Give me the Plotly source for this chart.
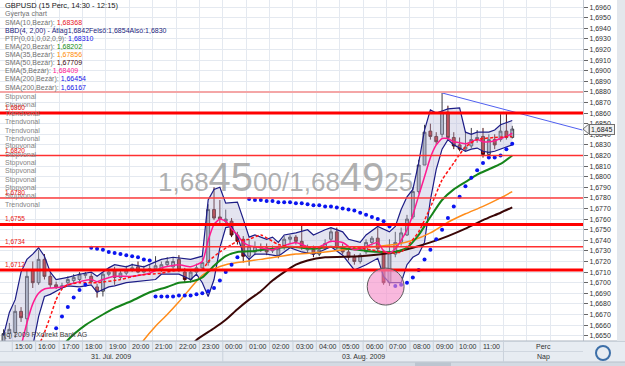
import plotly.graph_objects as go

# ---------------- data ----------------
open_ = [1.6644,1.6652,1.6653,1.6673,1.6666,1.6712,1.6700,1.6722,1.6706,1.6698,
         1.6696,1.6700,1.6702,1.6703,1.6707,1.6706,1.6696,1.6692,1.6708,1.6712,
         1.6705,1.6709,1.6712,1.6715,1.6710,1.6712,1.6713,1.6712,1.6717,1.6715,
         1.6722,1.6710,1.6703,1.6710,1.6714,1.6719,1.6769,1.6762,1.6758,1.6758,
         1.6745,1.6741,1.6725,1.6729,1.6734,1.6733,1.6730,1.6726,1.6734,1.6741,
         1.6743,1.6739,1.6731,1.6731,1.6727,1.6733,1.6741,1.6748,1.6734,1.6729,
         1.6724,1.6720,1.6729,1.6738,1.6742,1.6728,1.6700,1.6727,1.6738,1.6745,
         1.6762,1.6786,1.6811,1.6843,1.6838,1.6840,1.6861,1.6837,1.6830,1.6826,
         1.6829,1.6835,1.6838,1.6821,1.6835,1.6835,1.6843,1.6837]
high = [1.6656,1.6662,1.6679,1.6677,1.6712,1.6720,1.6731,1.6727,1.6709,1.6701,
        1.6700,1.6706,1.6708,1.6710,1.6710,1.6709,1.6699,1.6710,1.6714,1.6715,
        1.6712,1.6716,1.6718,1.6720,1.6716,1.6717,1.6725,1.6720,1.6724,1.6724,
        1.6726,1.6714,1.6712,1.6718,1.6724,1.6774,1.6790,1.6778,1.6769,1.6761,
        1.6748,1.6744,1.6741,1.6739,1.6737,1.6737,1.6735,1.6735,1.6744,1.6745,
        1.6745,1.6755,1.6736,1.6735,1.6734,1.6741,1.6752,1.6752,1.6737,1.6732,
        1.6727,1.6728,1.6741,1.6744,1.6752,1.6731,1.6741,1.6748,1.6752,1.6764,
        1.6790,1.6816,1.6849,1.6850,1.6842,1.6879,1.6867,1.6842,1.6837,1.6843,
        1.6846,1.6844,1.6846,1.6840,1.6840,1.6859,1.6860,1.6848]
low = [1.6640,1.6647,1.6648,1.6663,1.6653,1.6695,1.6698,1.6703,1.6695,1.6694,
       1.6694,1.6698,1.6699,1.6701,1.6704,1.6699,1.6686,1.6687,1.6706,1.6698,
       1.6703,1.6707,1.6710,1.6709,1.6709,1.6710,1.6711,1.6710,1.6715,1.6713,
       1.6710,1.6700,1.6700,1.6707,1.6712,1.6716,1.6759,1.6756,1.6754,1.6743,
       1.6736,1.6719,1.6716,1.6726,1.6729,1.6726,1.6728,1.6723,1.6731,1.6737,
       1.6736,1.6731,1.6728,1.6724,1.6725,1.6731,1.6738,1.6731,1.6727,1.6721,
       1.6717,1.6718,1.6727,1.6735,1.6729,1.6698,1.6697,1.6724,1.6735,1.6744,
       1.6760,1.6784,1.6811,1.6835,1.6830,1.6837,1.6835,1.6826,1.6824,1.6824,
       1.6827,1.6832,1.6818,1.6818,1.6826,1.6833,1.6835,1.6836]
close = [1.6652,1.6656,1.6673,1.6667,1.6706,1.6700,1.6722,1.6706,1.6698,1.6696,
         1.6697,1.6703,1.6705,1.6708,1.6708,1.6701,1.6692,1.6708,1.6710,1.6705,
         1.6709,1.6712,1.6714,1.6710,1.6712,1.6713,1.6716,1.6717,1.6720,1.6720,
         1.6712,1.6703,1.6710,1.6714,1.6719,1.6769,1.6761,1.6760,1.6760,1.6745,
         1.6739,1.6725,1.6734,1.6734,1.6733,1.6729,1.6731,1.6732,1.6741,1.6743,
         1.6739,1.6734,1.6733,1.6727,1.6731,1.6737,1.6748,1.6733,1.6729,1.6724,
         1.6720,1.6726,1.6738,1.6742,1.6732,1.6700,1.6728,1.6738,1.6747,1.6760,
         1.6786,1.6811,1.6842,1.6838,1.6833,1.6861,1.6837,1.6829,1.6826,1.6828,
         1.6835,1.6837,1.6821,1.6835,1.6830,1.6843,1.6837,1.6845]
candle_idx = list(range(len(close)))

ema5_i = [3,4,5,6,7,8,10,11,13,15,16,17,19,22,25,27,30,32,34,35,36,37,38,39,40,41,42,44,46,48,50,52,54,56,58,60,62,64,
          65,66,67,68,69,70,71,72,73,74,75,76,77,78,79,80,81,82,83,84,85,86,87]
ema5 = [1.6640,1.6662,1.6680,1.6690,1.6694,1.6695,1.6696,1.6698,1.6701,1.6703,1.6701,1.6703,1.6706,1.6706,1.6709,1.6714,
        1.6717,1.6715,1.6720,1.6740,1.6755,1.6760,1.6758,1.6751,1.6745,1.6738,1.6735,1.6733,1.6731,1.6735,1.6738,1.6734,
        1.6734,1.6739,1.6738,1.6731,1.6734,1.6738,1.6730,1.6728,1.6732,1.6740,1.6750,1.6764,1.6782,1.6800,1.6818,1.6830,
        1.6836,1.6836,1.6833,1.6832,1.6831,1.6833,1.6835,1.6833,1.6833,1.6834,1.6836,1.6838,1.6841]

sma10_i = [6,7,8,9,10,11,13,16,20,23,27,30,34,35,37,39,40,42,44,47,49,54,59,63,66,68,69,71,73,75,77,78,79,81,84,87]
sma10 = [1.6640,1.6653,1.6668,1.6684,1.6694,1.6698,1.6700,1.6700,1.6703,1.6707,1.6709,1.6712,1.6712,1.6720,1.6729,
         1.6736,1.6739,1.6741,1.6745,1.6736,1.6734,1.6733,1.6734,1.6731,1.6728,1.6729,1.6734,1.6748,1.6771,1.6797,
         1.6813,1.6821,1.6828,1.6835,1.6837,1.6838]

ema20_i = [9,11,14,17,19,22,25,28,30,32,34,36,38,40,43,46,49,53,56,59,62,65,67,69,71,73,75,77,79,81,83,85,87]
ema20 = [1.6632,1.6646,1.6660,1.6670,1.6676,1.6683,1.6691,1.6696,1.6700,1.6701,1.6705,1.6716,1.6725,1.6729,1.6730,
         1.6732,1.6734,1.6732,1.6734,1.6732,1.6730,1.6729,1.6729,1.6733,1.6745,1.6762,1.6778,1.6788,1.6795,1.6802,
         1.6807,1.6812,1.6820]

sma35_i = [23,24,26,28,30,32,34,36,38,40,44,50,55,61,67,70,73,76,79,82,85,87]
sma35 = [1.6638,1.6646,1.6659,1.6670,1.6682,1.6695,1.6707,1.6713,1.6717,1.6719,1.6722,1.6727,1.6729,1.6733,1.6736,
         1.6740,1.6747,1.6757,1.6765,1.6772,1.6780,1.6786]

sma50_i = [32,33,36,38,40,42,44,46,48,50,52,55,61,66,70,73,76,79,82,85,87]
sma50 = [1.6640,1.6646,1.6657,1.6665,1.6675,1.6684,1.6692,1.6702,1.6710,1.6717,1.6721,1.6724,1.6725,1.6728,1.6733,
         1.6738,1.6744,1.6751,1.6759,1.6766,1.6771]

bbu_i = [0,1,2,3,4,5,6,7,8,9,11,13,15,16,18,19,21,22,24,26,27,29,32,34,35,36,37,38,40,41,42,43,45,46,47,48,50,
         52,53,55,56,58,59,61,62,64,66,67,68,69,70,71,72,73,74,75,76,78,79,80,81,83,84,85,86,87]
bb_upper = [1.6650,1.6672,1.6684,1.6710,1.6722,1.6727,1.6733,1.6725,1.6710,1.6703,1.6705,1.6708,1.6710,1.6706,1.6714,
            1.6717,1.6715,1.6717,1.6715,1.6720,1.6722,1.6724,1.6722,1.6725,1.6778,1.6788,1.6790,1.6775,1.6776,1.6760,
            1.6743,1.6745,1.6741,1.6743,1.6738,1.6745,1.6747,1.6750,1.6745,1.6750,1.6752,1.6748,1.6741,1.6738,1.6745,
            1.6753,1.6748,1.6753,1.6769,1.6781,1.6788,1.6813,1.6844,1.6863,1.6860,1.6862,1.6864,1.6865,1.6842,1.6840,
            1.6842,1.6842,1.6844,1.6849,1.6851,1.6853]
bbl_i = [0,1,2,3,4,5,6,7,8,10,11,13,15,16,18,19,21,23,26,27,30,32,33,34,35,36,37,38,39,40,41,42,43,45,47,48,49,51,
         53,54,56,58,60,62,64,65,66,68,69,70,71,72,73,74,75,76,77,78,79,80,81,82,83,84,85,86,87]
bb_lower = [1.6625,1.6628,1.6625,1.6620,1.6625,1.6640,1.6668,1.6687,1.6689,1.6695,1.6697,1.6696,1.6698,1.6691,1.6696,
            1.6697,1.6700,1.6701,1.6703,1.6708,1.6708,1.6703,1.6708,1.6700,1.6687,1.6703,1.6733,1.6752,1.6753,1.6743,
            1.6728,1.6722,1.6727,1.6727,1.6725,1.6729,1.6733,1.6729,1.6727,1.6729,1.6734,1.6726,1.6712,1.6717,1.6723,
            1.6706,1.6700,1.6700,1.6717,1.6724,1.6727,1.6738,1.6778,1.6807,1.6826,1.6835,1.6830,1.6827,1.6824,1.6826,
            1.6827,1.6824,1.6823,1.6824,1.6826,1.6828,1.6830]

sar_i = [9,10,11,12,13,14,15,16,17,18,19,20,21,22,23,24,25,26,27,28,29,30,31,32,33,34,35,36,37,38,39,40,
         42,43,44,45,46,47,48,49,50,51,52,53,54,55,56,57,58,59,60,61,62,63,64,65,66,
         67,68,69,70,71,72,73,74,75,76,77,78,79,80,81,82,83,84,85,86,87]
sar = [1.6657,1.6668,1.6677,1.6686,1.6693,1.6698,1.6733,1.6732,1.6731,1.6729,1.6728,1.6727,1.6726,1.6725,1.6724,
       1.6722,1.6721,1.6687,1.6687,1.6687,1.6687,1.6688,1.6688,1.6688,1.6689,1.6690,1.6692,1.6695,1.6702,1.6710,
       1.6717,1.6724,
       1.6779,1.6778,1.6778,1.6777,1.6777,1.6776,1.6776,1.6776,1.6775,1.6775,1.6774,1.6773,1.6773,1.6772,1.6772,
       1.6771,1.6770,1.6769,1.6768,1.6766,1.6764,1.6762,1.6760,1.6758,1.6753,
       1.6697,1.6698,1.6700,1.6705,1.6712,1.6722,1.6731,1.6741,1.6750,1.6761,1.6772,1.6781,1.6791,1.6799,1.6806,
       1.6813,1.6818,1.6818,1.6820,1.6826,1.6831]

trend_i = [75, 99]
trend = [1.6879, 1.6844]

levels = [1.6880, 1.6860, 1.6820, 1.6780, 1.6755, 1.6734, 1.6712]
level_show_label = [False, True, True, True, True, True, True]

hour_labels = ["15:00","16:00","17:00","18:00","19:00","20:00","21:00","22:00","23:00","00:00","01:00",
               "02:00","03:00","04:00","05:00","06:00","07:00","08:00","09:00","10:00","11:00"]
day_labels = ["31. Júl. 2009", "03. Aug. 2009"]
day_start_hour = 9          # hour label index at which the second day starts
unit_labels = ["Perc", "Nap"]

legend_rows = [
    ("SMA(10,Bezár): ", "1,68368", "#e8141c"),
    ("", "BBD(4, 2,00) - Átlag1,6842Felső:1,6854Alsó:1,6830", "#1c1c7c"),
    ("PTP(0,01,0,02,0,9): ", "1,68310", "#1414e6"),
    ("EMA(20,Bezár): ", "1,68202", "#118a11"),
    ("SMA(35,Bezár): ", "1,67856", "#ff8c00"),
    ("SMA(50,Bezár): ", "1,67709", "#3a0808"),
    ("EMA(5,Bezár): ", "1,68409", "#ff1493"),
    ("EMA(200,Bezár): ", "1,66454", "#1414e6"),
    ("SMA(200,Bezár): ", "1,66167", "#1414e6"),
]
drawing_labels = ["Stopvonal","Stopvonal","Trendvonal","Trendvonal","Trendvonal","Trendvonal","Stopvonal",
                  "Stopvonal","Stopvonal","Stopvonal","Stopvonal","Stopvonal","Stopvonal","Trendvonal"]
bid_parts = ("1,68", "45", "00")
ask_parts = ("1,68", "49", "25")
last_price = 1.6845

# ---------------- layout helpers ----------------
W, H = 625, 366
PW, PH = 583, 341
X_LO, X_HI = -0.6, 99.1
Y_LO, Y_HI = 1.66450, 1.69667
FONT = "Liberation Sans, Arial, sans-serif"


def px_x(px):
    return px / PW


def px_y(py):
    return (PH - py) / PH


def idx_to_paper(v):
    return (v - X_LO) / (X_HI - X_LO)


fig = go.Figure()

# Bollinger band fill + lines
fig.add_trace(go.Scatter(x=bbu_i + bbl_i[::-1], y=bb_upper + bb_lower[::-1], fill="toself",
                         fillcolor="rgba(185,185,215,0.38)", line=dict(width=0), mode="lines",
                         hoverinfo="skip", showlegend=False))
for xs, ys in ((bbu_i, bb_upper), (bbl_i, bb_lower)):
    fig.add_trace(go.Scatter(x=xs, y=ys, mode="lines", line=dict(color="#1c1c86", width=1.2),
                             hoverinfo="skip", showlegend=False))

# slow moving averages
fig.add_trace(go.Scatter(x=sma50_i, y=sma50, mode="lines", line=dict(color="#3a0606", width=2, shape="spline", smoothing=0.6),
                         showlegend=False, hoverinfo="skip"))
fig.add_trace(go.Scatter(x=sma35_i, y=sma35, mode="lines", line=dict(color="#ff8c1a", width=1.5, shape="spline", smoothing=0.6),
                         showlegend=False, hoverinfo="skip"))
fig.add_trace(go.Scatter(x=ema20_i, y=ema20, mode="lines", line=dict(color="#15841a", width=2, shape="spline", smoothing=0.6),
                         showlegend=False, hoverinfo="skip"))

# candles
fig.add_trace(go.Candlestick(x=candle_idx, open=open_, high=high, low=low, close=close,
                             increasing=dict(line=dict(color="#3c3c44", width=1), fillcolor="#aab3c2"),
                             decreasing=dict(line=dict(color="#4a0c0c", width=1), fillcolor="#c01818"),
                             whiskerwidth=0, showlegend=False, hoverinfo="skip"))

# fast averages
fig.add_trace(go.Scatter(x=ema5_i, y=ema5, mode="lines", line=dict(color="#ff1a90", width=1.5, shape="spline", smoothing=0.5),
                         showlegend=False, hoverinfo="skip"))
fig.add_trace(go.Scatter(x=sma10_i, y=sma10, mode="lines",
                         line=dict(color="#ff1414", width=1.5, dash="3px,2px", shape="spline", smoothing=0.5),
                         showlegend=False, hoverinfo="skip"))

# parabolic SAR
fig.add_trace(go.Scatter(x=sar_i, y=sar, mode="markers", marker=dict(color="#0a14f0", size=4),
                         showlegend=False, hoverinfo="skip"))

# trend line
fig.add_trace(go.Scatter(x=trend_i, y=trend, mode="lines", line=dict(color="#5060f0", width=1),
                         showlegend=False, hoverinfo="skip"))

shapes = []
# white box behind legend
shapes.append(dict(type="rect", xref="paper", yref="paper", x0=0, x1=px_x(152), y0=px_y(91), y1=1,
                   fillcolor="white", line=dict(width=0), layer="between"))

# horizontal level lines
level_styles = [("#f4a6a6", 2), ("#ff0000", 3), ("#ff3030", 1.5), ("#ff3c3c", 1.5),
                ("#ff0000", 3), ("#ff3030", 1.5), ("#ff0000", 3)]
for lv, (col, wd) in zip(levels, level_styles):
    shapes.append(dict(type="line", xref="paper", yref="y", x0=0, x1=1, y0=lv, y1=lv,
                       line=dict(color=col, width=wd), layer="above"))

# pink circle
shapes.append(dict(type="circle", xref="x", yref="y", x0=62.2, x1=68.5, y0=1.66789, y1=1.67138,
                   fillcolor="rgba(245,140,200,0.62)", line=dict(color="#5a5a5a", width=1), layer="above"))

# axis bands
shapes.append(dict(type="rect", xref="paper", yref="paper", x0=0, x1=W / PW, y0=px_y(362), y1=0,
                   fillcolor="#e7ecf2", line=dict(width=0), layer="above"))
shapes.append(dict(type="rect", xref="paper", yref="paper", x0=0, x1=W / PW, y0=px_y(367), y1=px_y(362),
                   fillcolor="#d3dae3", line=dict(width=0), layer="above"))
shapes.append(dict(type="rect", xref="paper", yref="paper", x0=px_x(415), x1=px_x(451), y0=px_y(367), y1=px_y(362.5),
                   fillcolor="#bcc5d0", line=dict(width=0), layer="above"))
shapes.append(dict(type="line", xref="paper", yref="paper", x0=0, x1=W / PW, y0=0, y1=0,
                   line=dict(color="#aab3bf", width=1), layer="above"))
shapes.append(dict(type="line", xref="paper", yref="paper", x0=0, x1=1, y0=px_y(351.5), y1=px_y(351.5),
                   line=dict(color="#d0d7e0", width=1), layer="above"))
shapes.append(dict(type="line", xref="paper", yref="paper", x0=0, x1=W / PW, y0=px_y(362), y1=px_y(362),
                   line=dict(color="#b8c1cc", width=1), layer="above"))
boundaries = [1.5 + 4 * k for k in range(len(hour_labels) + 1)]
for b in boundaries:
    shapes.append(dict(type="line", xref="paper", yref="paper", x0=idx_to_paper(b), x1=idx_to_paper(b),
                       y0=0, y1=px_y(351.5), line=dict(color="#c9d1db", width=1), layer="above"))
day_b = boundaries[day_start_hour]
end_b = boundaries[-1]
for b in (day_b, end_b):
    shapes.append(dict(type="line", xref="paper", yref="paper", x0=idx_to_paper(b), x1=idx_to_paper(b),
                       y0=px_y(351.5), y1=px_y(362), line=dict(color="#c9d1db", width=1), layer="above"))
# right strip
shapes.append(dict(type="rect", xref="paper", yref="paper", x0=px_x(617), x1=px_x(626), y0=0, y1=1,
                   fillcolor="#e3e7ec", line=dict(width=0), layer="above"))
# refresh icon
shapes.append(dict(type="circle", xref="paper", yref="paper", x0=px_x(596), x1=px_x(610), y0=px_y(360), y1=px_y(346),
                   line=dict(color="#3d6fa8", width=2), layer="above"))
# price arrow
shapes.append(dict(type="path", xref="paper", yref="y",
                   path=f"M 1,{last_price} L {px_x(589)},{last_price + 0.00048} L {px_x(589)},{last_price - 0.00048} Z",
                   fillcolor="#f2f2f2", line=dict(color="#707070", width=1), layer="above"))

ann = []
small = dict(family=FONT, size=7, color="#707070")
ann.append(dict(x=px_x(3), y=px_y(5.5), xref="paper", yref="paper", xanchor="left", yanchor="middle",
                text="GBPUSD (15 Perc, 14:30 - 12:15)", showarrow=False,
                font=dict(family=FONT, size=7.5, color="#1a1a1a")))
ann.append(dict(x=px_x(3), y=px_y(14), xref="paper", yref="paper", xanchor="left", yanchor="middle",
                text="Gyertya chart", showarrow=False, font=small))
for k, (lab, val, col) in enumerate(legend_rows):
    ann.append(dict(x=px_x(3), y=px_y(22.7 + 8.1 * k), xref="paper", yref="paper", xanchor="left", yanchor="middle",
                    text=f'{lab}<span style="color:{col}">{val}</span>', showarrow=False, font=small))
for k, lab in enumerate(drawing_labels):
    ann.append(dict(x=px_x(3), y=px_y(97 + 8.25 * k), xref="paper", yref="paper", xanchor="left", yanchor="middle",
                    text=lab, showarrow=False, font=dict(family=FONT, size=7, color="#858585")))
for lv, show in zip(levels, level_show_label):
    if show:
        ann.append(dict(x=px_x(3), y=lv, xref="paper", yref="y", xanchor="left", yanchor="bottom", yshift=0,
                        text=f"{lv:.4f}".replace(".", ","), showarrow=False,
                        font=dict(family=FONT, size=6.5, color="#e81010")))

big, sm = 40, 26
wm = (f'<span style="font-size:{sm}px">{bid_parts[0]}</span><span style="font-size:{big}px">{bid_parts[1]}</span>'
      f'<span style="font-size:{sm}px">{bid_parts[2]}/{ask_parts[0]}</span><span style="font-size:{big}px">{ask_parts[1]}</span>'
      f'<span style="font-size:{sm}px">{ask_parts[2]}</span>')
ann.append(dict(x=px_x(285), y=px_y(177), xref="paper", yref="paper", xanchor="center", yanchor="middle",
                text=wm, showarrow=False, font=dict(family=FONT, size=sm, color="rgba(150,150,150,0.75)")))

ann.append(dict(x=px_x(2), y=px_y(335), xref="paper", yref="paper", xanchor="left", yanchor="middle",
                text="(c) 2009 FXdirekt Bank AG", showarrow=False, font=dict(family=FONT, size=7, color="#404040")))

for k, h in enumerate(hour_labels):
    ann.append(dict(x=3.5 + 4 * k, y=px_y(346.5), xref="x", yref="paper", xanchor="center", yanchor="middle",
                    text=h, showarrow=False, font=dict(family=FONT, size=7, color="#303030")))
day_centers = [(X_LO + day_b) / 2, (day_b + end_b) / 2]
for c, d in zip(day_centers, day_labels):
    ann.append(dict(x=c, y=px_y(356.5), xref="x", yref="paper", xanchor="center", yanchor="middle",
                    text=d, showarrow=False, font=dict(family=FONT, size=7, color="#303030")))
unit_x = (end_b + X_HI) / 2
for py, u in zip((346.5, 356.5), unit_labels):
    ann.append(dict(x=unit_x, y=px_y(py), xref="x", yref="paper", xanchor="center", yanchor="middle",
                    text=u, showarrow=False, font=dict(family=FONT, size=7, color="#303030")))

ann.append(dict(x=px_x(589), y=last_price, xref="paper", yref="y", xanchor="left", yanchor="middle",
                text=f"{last_price:.4f}".replace(".", ","), showarrow=False, bgcolor="#f2f2f2",
                bordercolor="#707070", borderwidth=1, borderpad=1,
                font=dict(family=FONT, size=7, color="#202020")))

fig.update_layout(
    width=W, height=H,
    margin=dict(l=0, r=W - PW, t=0, b=H - PH, pad=0),
    paper_bgcolor="white", plot_bgcolor="white",
    separators=",.",
    showlegend=False,
    shapes=shapes,
    annotations=ann,
    xaxis=dict(range=[X_LO, X_HI], tickvals=boundaries + [end_b + 4, end_b + 8], showticklabels=False,
               showgrid=True, gridcolor="#e4e9f0", gridwidth=1, zeroline=False, ticks="",
               rangeslider=dict(visible=False), fixedrange=True, automargin=False),
    yaxis=dict(range=[Y_LO, Y_HI], side="right", tick0=1.6650, dtick=0.001, tickformat=".4f",
               ticks="outside", ticklen=4, tickcolor="#666666", tickfont=dict(family=FONT, size=7, color="#303030"),
               showgrid=True, gridcolor="#e4e9f0", zeroline=False, showline=True, linecolor="#c2c8d0",
               fixedrange=True, automargin=False),
)

fig.write_html("out.html")
